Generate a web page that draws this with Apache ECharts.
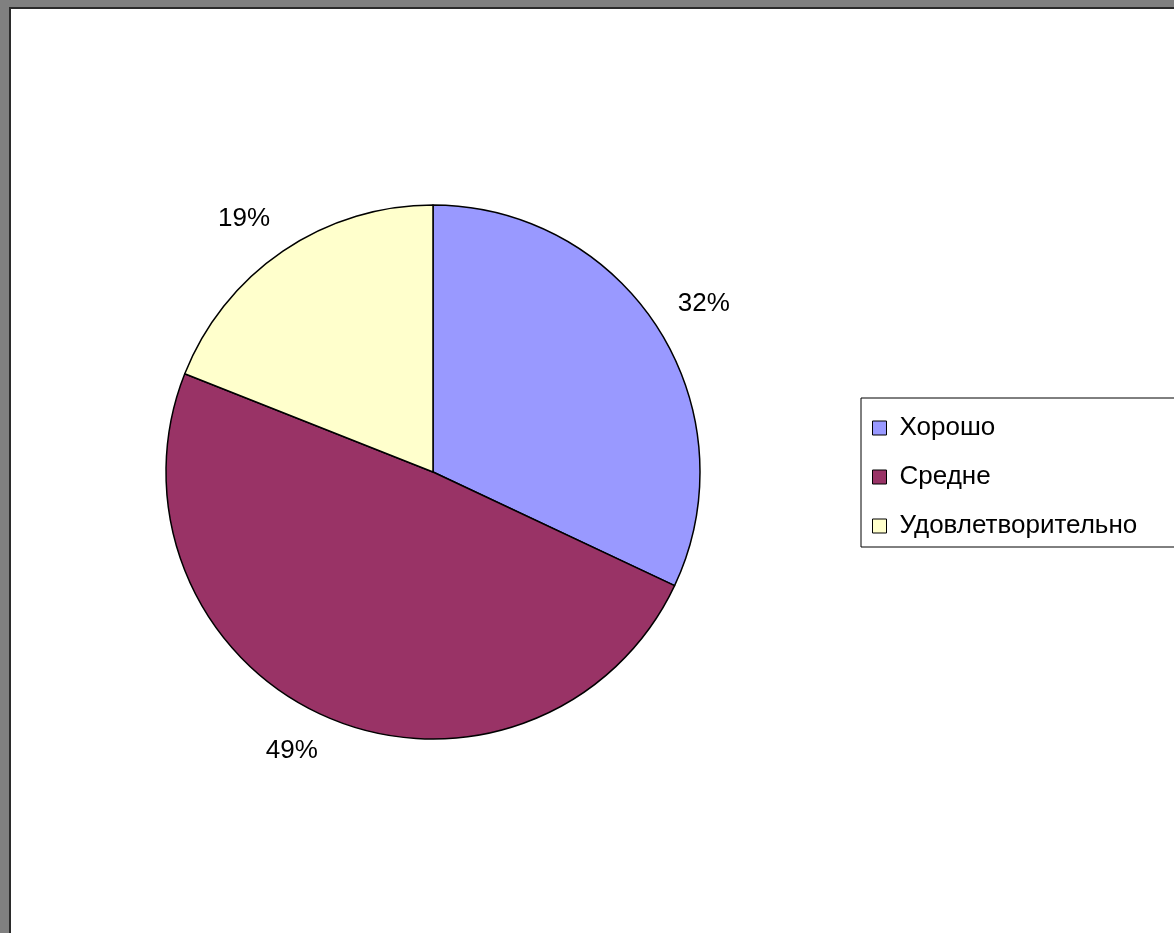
<!DOCTYPE html>
<html>
<head>
<meta charset="utf-8">
<script src="https://cdn.jsdelivr.net/npm/echarts@6/dist/echarts.min.js"></script>
<style>
    html, body {
        margin: 0;
        padding: 0;
        width: 1174px;
        height: 933px;
        background: #808080;
        overflow: hidden;
    }
    /* серая рамка слева и сверху, как в окне Excel */
    #chart {
        position: absolute;
        left: 9px;
        top: 7px;
        width: 1163px;
        height: 924px;
        border-left: 2px solid #2b2b2b;
        border-top: 2px solid #2b2b2b;
        background: #fff;
    }
</style>
</head>
<body>
<div id="chart"></div>
<script>
// data
const categories = ['Хорошо', 'Средне', 'Удовлетворительно']
const values = [32, 49, 19]
const colors = ['#9999ff', '#993366', '#ffffcc']

const pieData = categories.map((name, i) => ({ name: name, value: values[i] }))
const pieCenter = [422, 463]
const pieRadius = 267
const labelDist = 290 // угол подписи ставится на луч середины сектора, как в Excel
const fontFamily = '"Liberation Sans", Arial, sans-serif'

const total = values.reduce((a, b) => a + b, 0)
function midAngle(i) {
    let before = 0
    for (let k = 0; k < i; k++) before += values[k]
    return (90 - (before + values[i] / 2) / total * 360) * Math.PI / 180
}

const myChart = echarts.init(document.getElementById('chart'))
const option = {
    animation: false,
    color: colors,
    legend: {
        data: categories,
        orient: 'vertical',
        left: 850,
        top: 389,
        padding: [17, 80, 8, 11],
        borderColor: '#000',
        borderWidth: 1,
        backgroundColor: '#fff',
        itemWidth: 14,
        itemHeight: 14,
        itemGap: 23,
        icon: 'rect',
        itemStyle: {
            borderColor: '#000',
            borderWidth: 1
        },
        textStyle: {
            fontFamily: fontFamily,
            fontSize: 26,
            lineHeight: 26,
            color: '#000',
            padding: [0, 0, 0, 8]
        }
    },
    series: [
        {
            type: 'pie',
            center: pieCenter,
            radius: pieRadius,
            startAngle: 90,
            clockwise: true,
            silent: true,
            itemStyle: {
                borderColor: '#000',
                borderWidth: 1.5
            },
            label: {
                show: true,
                position: 'outside',
                formatter: '{d}%',
                fontFamily: fontFamily,
                fontSize: 26,
                color: '#000'
            },
            labelLine: { show: false },
            labelLayout: function (params) {
                const a = midAngle(params.dataIndex)
                const cos = Math.cos(a)
                const sin = Math.sin(a)
                return {
                    x: pieCenter[0] + labelDist * cos,
                    y: pieCenter[1] - labelDist * sin,
                    align: cos >= 0 ? 'left' : 'right',
                    verticalAlign: sin >= 0 ? 'bottom' : 'top'
                }
            },
            emphasis: { disabled: true },
            data: pieData
        }
    ]
}
myChart.setOption(option)
</script>
</body>
</html>
